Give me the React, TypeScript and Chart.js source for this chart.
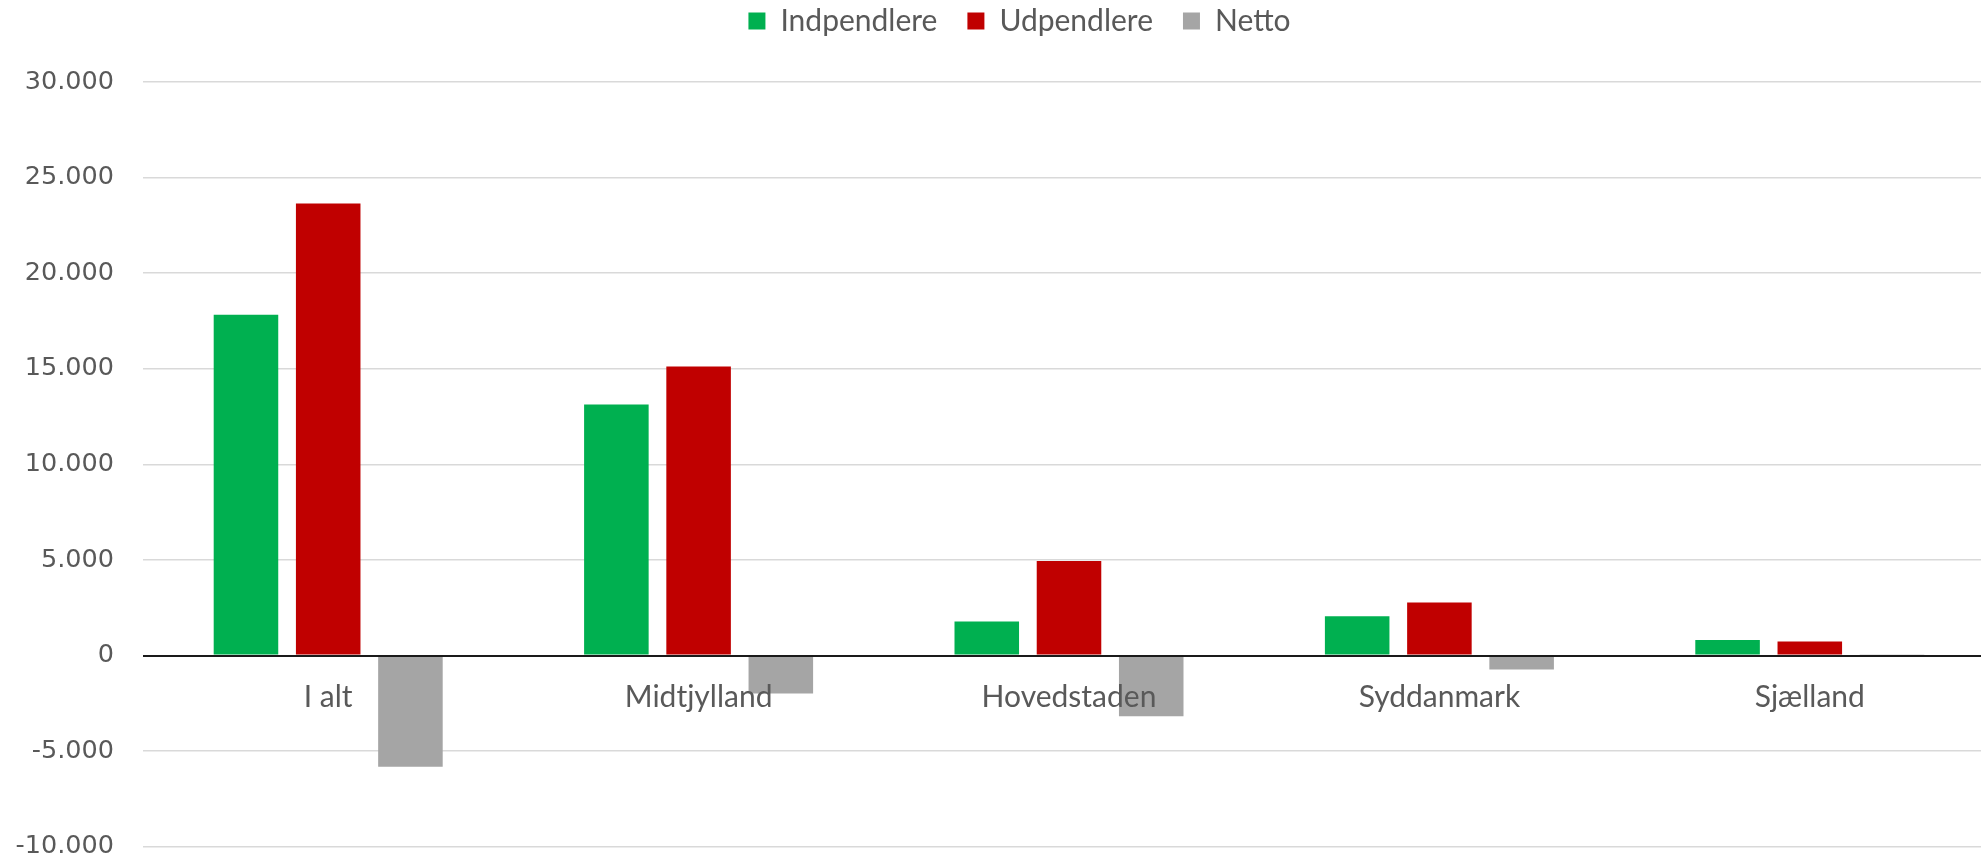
import React, { useEffect, useRef } from 'react';
import { Chart, registerables } from 'chart.js';

Chart.register(...registerables);

const categories = ['I alt', 'Midtjylland', 'Hovedstaden', 'Syddanmark', 'Sjælland'];
const seriesNames = ['Indpendlere', 'Udpendlere', 'Netto'];
const indpendlere = [17820, 13130, 1780, 2050, 810];
const udpendlere = [23640, 15120, 4950, 2780, 740];
const netto = [-5820, -1990, -3170, -730, 70];
const yTicks = [30000, 25000, 20000, 15000, 10000, 5000, 0, -5000, -10000];
const seriesColors = ['#00B050', '#C00000', '#A5A5A5'];

const fmt = (n: number) =>
  (n < 0 ? '-' : '') + Math.abs(n).toString().replace(/\B(?=(\d{3})+(?!\d))/g, '.');

const legendSpacer = {
  id: 'legendSpacer',
  beforeInit(chart: any) {
    const legend = chart.legend;
    if (!legend) return;
    const orig = legend.fit;
    legend.fit = function () {
      orig.call(this);
      this.height += 36;
    };
  },
  afterLayout(chart: any) {
    if (chart.legend) chart.legend.left = 44;
  },
};

const zeroLine = {
  id: 'zeroLine',
  afterDatasetsDraw(chart: any) {
    const { ctx, chartArea, scales } = chart;
    const y = Math.round(scales.y.getPixelForValue(0));
    ctx.save();
    ctx.strokeStyle = '#1a1a1a';
    ctx.lineWidth = 2;
    ctx.beginPath();
    ctx.moveTo(chartArea.left, y);
    ctx.lineTo(chartArea.right, y);
    ctx.stroke();
    ctx.restore();
  },
};

export default function App() {
  const ref = useRef<HTMLCanvasElement | null>(null);

  useEffect(() => {
    if (!ref.current) return;
    const values = [indpendlere, udpendlere, netto];
    const chart = new Chart(ref.current, {
      type: 'bar',
      data: {
        labels: categories,
        datasets: seriesNames.map((name, i) => ({
          label: name,
          data: values[i],
          backgroundColor: seriesColors[i],
          borderWidth: 0,
          categoryPercentage: 0.666,
          barPercentage: 0.785,
        })),
      },
      options: {
        responsive: false,
        animation: false,
        layout: { padding: { top: -24, left: 0, right: 0, bottom: 0 } },
        plugins: {
          legend: {
            position: 'top',
            labels: {
              boxWidth: 17,
              boxHeight: 17,
              padding: 30,
              color: '#595959',
              font: { family: 'Lato', size: 30 },
            },
          },
          tooltip: { enabled: false },
        },
        scales: {
          x: {
            type: 'category',
            position: { y: 0 } as any,
            offset: true,
            grid: { display: false, drawTicks: false },
            border: { display: false },
            ticks: {
              z: 1,
              padding: 24,
              color: '#595959',
              font: { family: 'Lato', size: 30 },
              maxRotation: 0,
              autoSkip: false,
            },
          },
          y: {
            min: -10000,
            max: 30000,
            afterBuildTicks: (scale: any) => {
              scale.ticks = yTicks.map((v) => ({ value: v }));
            },
            afterFit: (scale: any) => {
              scale.width = 143;
            },
            grid: {
              drawTicks: false,
              color: (c: any) => (c.tick && c.tick.value === 0 ? '#1a1a1a' : '#D9D9D9'),
              lineWidth: (c: any) => (c.tick && c.tick.value === 0 ? 2 : 1.5),
            },
            border: { display: false },
            ticks: {
              padding: 29,
              color: '#595959',
              font: { family: 'DejaVu Sans', size: 25.5 },
              callback: (v: any) => fmt(Number(v)),
            },
          },
        },
      },
      plugins: [legendSpacer, zeroLine],
    });
    return () => chart.destroy();
  }, []);

  return (
    <div
      style={{
        position: 'fixed',
        left: 0,
        top: 0,
        width: '100vw',
        height: '100vh',
        overflow: 'hidden',
        background: '#fff',
      }}
    >
      <canvas ref={ref} width={1995} height={891} style={{ display: 'block', width: 1995, height: 891 }} />
    </div>
  );
}
